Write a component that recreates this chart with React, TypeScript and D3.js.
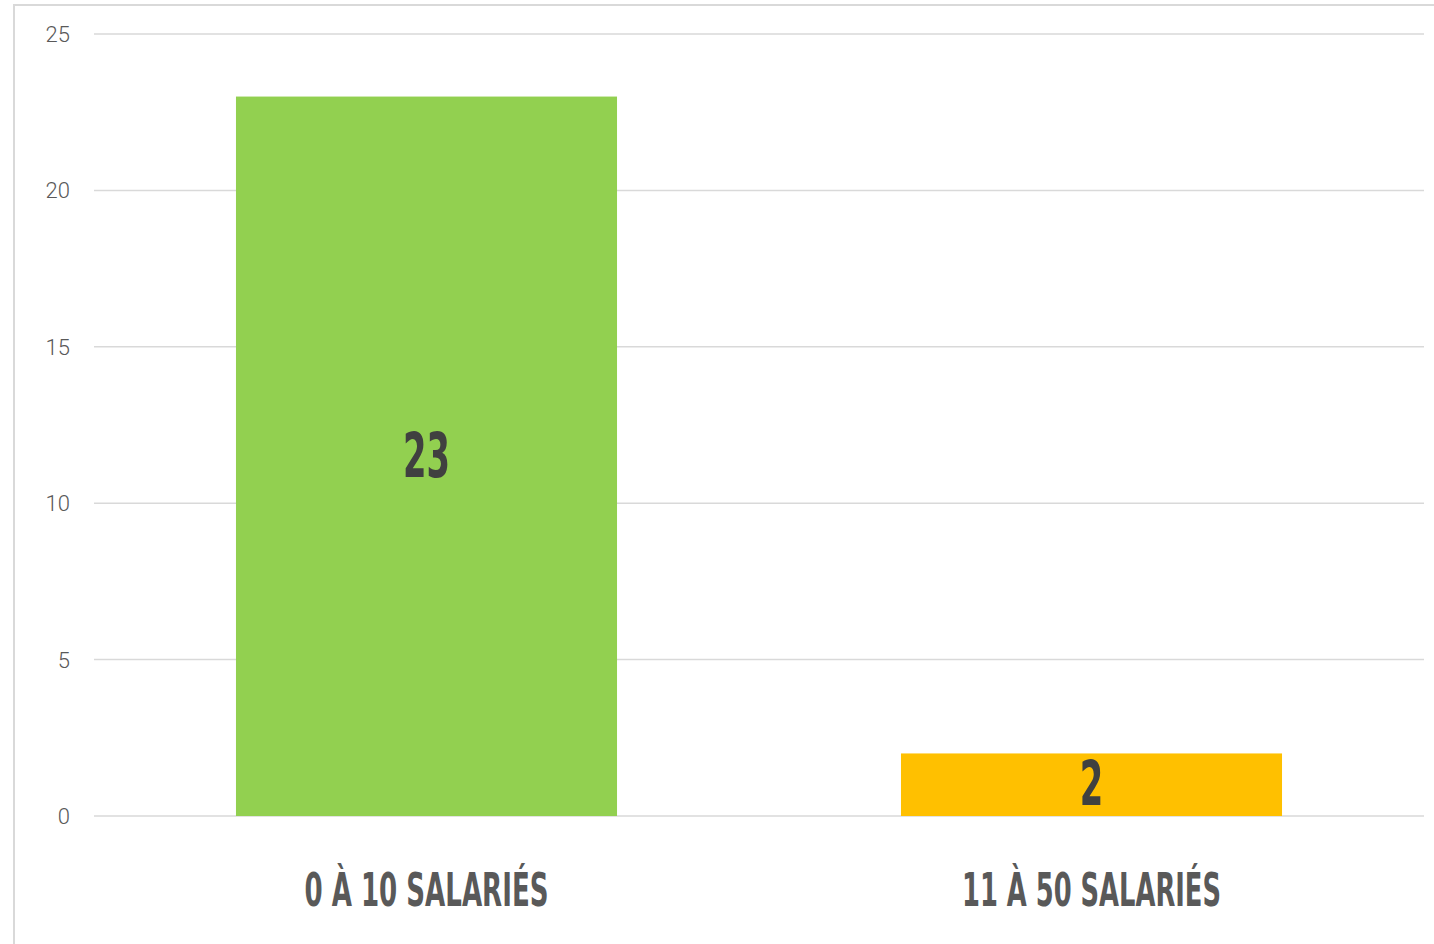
import React from 'react';
import * as d3 from 'd3';

const categories = ['0 À 10 SALARIÉS', '11 À 50 SALARIÉS'];
const values = [23, 2];
const barColors = ['#92d050', '#ffc000'];
const yTicks = [0, 5, 10, 15, 20, 25];

const W = 1434;
const H = 944;
const margin = { top: 34, right: 10, bottom: 128, left: 94 };

const App = () => {
  const x = d3.scaleBand<string>()
    .domain(categories)
    .range([margin.left, W - margin.right])
    .paddingInner(0.427)
    .paddingOuter(0.2135);

  const y = d3.scaleLinear()
    .domain([0, 25])
    .range([H - margin.bottom, margin.top]);

  const condensed = '"Liberation Sans Narrow", "DejaVu Sans Condensed", sans-serif';

  return (
    <svg width={W} height={H} style={{ position: 'absolute', left: 0, top: 0, background: '#fff' }}>
      {/* outer frame */}
      <rect x={14} y={5} width={W + 20} height={H + 20} fill="none" stroke="#d9d9d9" strokeWidth={2} />

      {/* gridlines + y labels */}
      {yTicks.map(t => (
        <g key={t}>
          <line x1={margin.left} x2={W - margin.right} y1={y(t)} y2={y(t)} stroke="#d9d9d9" strokeWidth={1.5} />
          <text
            x={70}
            y={y(t)}
            dy="0.36em"
            textAnchor="end"
            fontFamily='Roboto, "Liberation Sans", Arial, sans-serif'
            fontWeight={300}
            fontSize={22}
            fill="#595959"
          >
            {t}
          </text>
        </g>
      ))}

      {/* bars */}
      {categories.map((c, i) => (
        <rect
          key={c}
          x={x(c)}
          y={y(values[i])}
          width={x.bandwidth()}
          height={y(0) - y(values[i])}
          fill={barColors[i]}
        />
      ))}

      {/* value labels */}
      {categories.map((c, i) => {
        const cx = (x(c) ?? 0) + x.bandwidth() / 2;
        const cy = (y(values[i]) + y(0)) / 2;
        const label = String(values[i]);
        return (
          <text
            key={c}
            x={cx}
            y={cy}
            dy="0.33em"
            textAnchor="middle"
            fontFamily={condensed}
            fontWeight="bold"
            fontSize={62}
            fill="#404040"
            textLength={label.length * 23.5}
            lengthAdjust="spacingAndGlyphs"
          >
            {label}
          </text>
        );
      })}

      {/* category labels */}
      {categories.map((c, i) => {
        const cx = (x(c) ?? 0) + x.bandwidth() / 2;
        return (
          <text
            key={c}
            x={cx}
            y={906}
            textAnchor="middle"
            fontFamily={condensed}
            fontWeight="bold"
            fontSize={47}
            fill="#595959"
            textLength={i === 0 ? 244 : 259}
            lengthAdjust="spacingAndGlyphs"
          >
            {c}
          </text>
        );
      })}
    </svg>
  );
};

export default App;
